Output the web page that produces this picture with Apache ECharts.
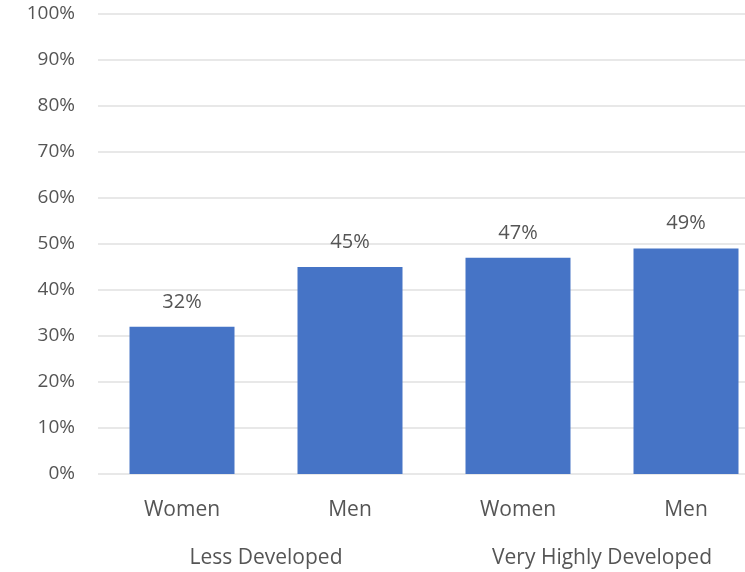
<!DOCTYPE html>
<html>
<head>
<meta charset="utf-8">
<script src="https://cdn.jsdelivr.net/npm/echarts@6/dist/echarts.min.js"></script>
<style>
  html, body { margin: 0; padding: 0; background: #fff; overflow: hidden; }
</style>
</head>
<body>
<!-- chart container: a bit wider than the window, the last bar is cut at the right edge -->
<div id="myChart" style="width:770px;height:572px;"></div>
<script>
var categories = ['Women', 'Men', 'Women', 'Men'];
var groups = ['Less Developed', 'Very Highly Developed'];
var values = [32, 45, 47, 49];

var myChart = echarts.init(document.getElementById('myChart'));
var font = '"Open Sans", "Liberation Sans", sans-serif';

myChart.setOption({
  animation: false,
  color: ['#4674c6'],
  grid: {
    left: 98,
    right: 0,
    top: 14,
    bottom: 98
  },
  xAxis: [{
    type: 'category',
    data: categories,
    axisLine: { show: false },
    axisTick: { show: false },
    axisLabel: {
      margin: 26,
      color: '#555',
      fontSize: 21,
      fontFamily: font
    }
  }, {
    type: 'category',
    data: groups,
    position: 'bottom',
    offset: 48,
    axisLine: { show: false },
    axisTick: { show: false },
    axisLabel: {
      margin: 26,
      color: '#555',
      fontSize: 21,
      fontFamily: font
    }
  }],
  yAxis: {
    type: 'value',
    min: 0,
    max: 100,
    interval: 10,
    axisLine: { show: false },
    axisTick: { show: false },
    axisLabel: {
      margin: 23,
      color: '#555',
      fontSize: 19,
      fontFamily: font,
      formatter: '{value}%'
    },
    splitLine: {
      lineStyle: { color: '#e8e8e8', width: 2 }
    }
  },
  series: [{
    type: 'bar',
    xAxisIndex: 0,
    barWidth: '62.5%',
    data: values,
    label: {
      show: true,
      position: 'top',
      distance: 15,
      color: '#555',
      fontSize: 20,
      fontFamily: font,
      formatter: '{c}%'
    }
  }]
});
</script>
</body>
</html>
